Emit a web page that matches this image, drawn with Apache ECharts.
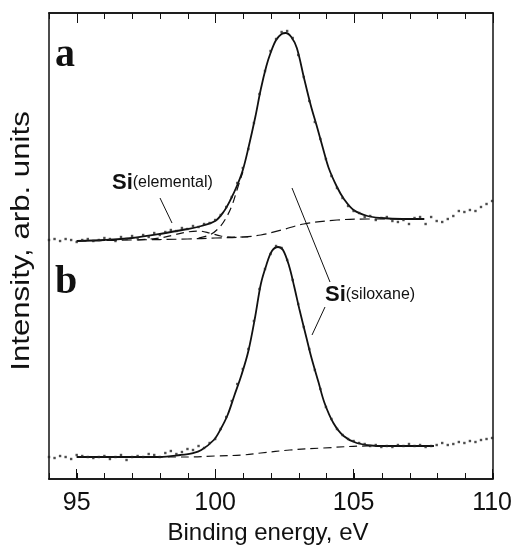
<!DOCTYPE html>
<html>
<head>
<meta charset="utf-8">
<script src="https://cdn.jsdelivr.net/npm/echarts@6/dist/echarts.min.js"></script>
<style>
  html, body { margin: 0; padding: 0; background: #fff; }
  #chart { width: 515px; height: 548px; }
</style>
</head>
<body>
<div id="chart"></div>
<script>
  // binding energy grid of the measured points (eV)
  const dotEnergy = [
    94.0, 94.2, 94.4, 94.6, 94.8, 95.0, 95.2, 95.4, 95.6, 95.8,
    96.0, 96.2, 96.4, 96.6, 96.8, 97.0, 97.2, 97.4, 97.6, 97.8,
    98.0, 98.2, 98.4, 98.6, 98.8, 99.0, 99.2, 99.4, 99.6, 99.8,
    100.0, 100.2, 100.4, 100.6, 100.8, 101.0, 101.2, 101.4, 101.6, 101.8,
    102.0, 102.2, 102.4, 102.6, 102.8, 103.0, 103.2, 103.4, 103.6, 103.8,
    104.0, 104.2, 104.4, 104.6, 104.8, 105.0, 105.2, 105.4, 105.6, 105.8,
    106.0, 106.2, 106.4, 106.6, 106.8, 107.0, 107.2, 107.4, 107.6, 107.8,
    108.0, 108.2, 108.4, 108.6, 108.8, 109.0, 109.2, 109.4, 109.6, 109.8,
    110.0
  ]

  // spectrum a: measured points
  const dotsA = [
    239, 240, 238, 240, 239, 237, 239, 240, 238, 239,
    241, 240, 238, 242, 240, 243, 241, 244, 242, 246,
    244, 247, 249, 248, 251, 250, 253, 252, 255, 256,
    259, 264, 272, 282, 296, 311, 330, 356, 385, 408,
    428, 440, 447, 448, 441, 424, 402, 378, 357, 340,
    320, 303, 291, 281, 273, 268, 266, 262, 263, 259,
    261, 262, 258, 257, 259, 255, 261, 262, 255, 262,
    258, 257, 260, 263, 268, 267, 269, 268, 272, 275,
    278
  ]

  // spectrum b: measured points
  const dotsB = [
    22, 21, 23, 22, 20, 24, 23, 22, 21, 22,
    23, 20, 22, 24, 19, 22, 23, 22, 25, 24,
    22, 26, 28, 25, 27, 30, 29, 33, 31, 36,
    40, 50, 62, 78, 95, 110, 130, 158, 190, 210,
    225, 233, 231, 219, 199, 175, 152, 130, 109, 90,
    72, 60, 50, 44, 40, 38, 36, 35, 33, 34,
    32, 33, 32, 34, 33, 35, 33, 34, 32, 33,
    34, 36, 34, 35, 37, 36, 38, 37, 39, 40,
    41
  ]

  // fitted curves [eV, intensity]
  const fitA = [
    [95.0, 238], [96.0, 239], [97.0, 241], [98.0, 245], [99.0, 250], [99.5, 253],
    [100.0, 258], [100.3, 267], [100.55, 279], [100.8, 294], [101.0, 309], [101.2, 331],
    [101.45, 362], [101.65, 390], [101.85, 413], [102.0, 426], [102.2, 439], [102.4, 445],
    [102.55, 446], [102.75, 442], [102.95, 431], [103.2, 402], [103.45, 374], [103.7, 350],
    [103.9, 330], [104.1, 311], [104.4, 292], [104.65, 280], [105.0, 269], [105.5, 263],
    [106.0, 261], [106.75, 260], [107.55, 260]
  ]
  const bgA = [
    [95.0, 238], [97.0, 239], [99.0, 240], [100.0, 241], [101.0, 242], [101.65, 244],
    [102.4, 249], [103.2, 255], [104.4, 259], [105.5, 260], [107.55, 260]
  ]
  const elementalA = [
    [97.2, 239], [98.0, 241], [98.5, 244], [99.0, 247], [99.4, 248], [99.8, 246],
    [100.2, 243], [100.6, 242], [101.2, 242]
  ]
  const siloxaneA = [
    [99.4, 241], [99.8, 244], [100.1, 250], [100.35, 259], [100.6, 273], [100.8, 290],
    [101.0, 307]
  ]
  const fitB = [
    [95.0, 22], [96.0, 22], [97.0, 22], [98.0, 22], [98.75, 24], [99.2, 26], [99.5, 29],
    [99.95, 39], [100.2, 50], [100.45, 64], [100.7, 84], [100.95, 104], [101.2, 128],
    [101.45, 163], [101.65, 195], [101.85, 214], [102.05, 228], [102.27, 232], [102.45, 229],
    [102.67, 213], [102.85, 193], [103.04, 170], [103.29, 142], [103.47, 122], [103.73, 97],
    [103.95, 76], [104.27, 56], [104.64, 43], [105.11, 36], [105.84, 33], [106.5, 33],
    [107.9, 33]
  ]
  const bgB = [
    [95.0, 22], [99.0, 22], [100.0, 23], [101.0, 24], [101.65, 26], [102.7, 29],
    [103.9, 31], [105.5, 33], [107.9, 33]
  ]

  const majorTicks = [95, 100, 105, 110]

  const chart = echarts.init(document.getElementById('chart'))
  const ink = '#111'
  const sans = 'Liberation Sans, Arial, sans-serif'

  const pts = (ys) => dotEnergy.map((e, i) => [e, ys[i]])

  // four grids over the same plot box: 0 data + bottom major, 1 bottom minor,
  // 2 top major, 3 top minor (each grid carries one x axis)
  const box = { left: 49, right: 22, top: 13, bottom: 69 }

  const xAxisFor = (gridIndex, position, tickLen, extra) => ({
    gridIndex,
    type: 'value',
    min: 94,
    max: 110,
    position,
    splitLine: { show: false },
    axisLine: { show: true, onZero: false, lineStyle: { color: ink, width: 1.5 } },
    axisLabel: { show: false },
    axisTick: { show: true, inside: true, length: tickLen, lineStyle: { color: ink } },
    ...extra
  })
  const yAxisFor = (gridIndex, lineShown, position) => ({
    gridIndex,
    type: 'value',
    min: 0,
    max: 466,
    position,
    axisLine: { show: lineShown, onZero: false, lineStyle: { color: ink, width: 1.5 } },
    axisTick: { show: false },
    axisLabel: { show: false },
    splitLine: { show: false }
  })

  const solid = (data) => ({
    type: 'line',
    data,
    smooth: 0.35,
    showSymbol: false,
    lineStyle: { color: ink, width: 1.8 },
    z: 3
  })
  const dashed = (data, dash) => ({
    type: 'line',
    data,
    smooth: 0.35,
    showSymbol: false,
    lineStyle: { color: ink, width: 1.2, type: dash },
    z: 2
  })
  const dots = (data) => ({
    type: 'scatter',
    data,
    symbol: 'rect',
    symbolSize: 2.4,
    itemStyle: { color: '#222' },
    z: 4
  })

  const option = {
    animation: false,
    grid: [box, box, box, box],
    xAxis: [
      xAxisFor(0, 'bottom', 10, {
        axisTick: { show: true, inside: true, length: 10, customValues: majorTicks, lineStyle: { color: ink } },
        axisLabel: { show: true, customValues: majorTicks, margin: 12, fontSize: 25, fontFamily: sans, color: ink }
      }),
      xAxisFor(1, 'bottom', 6, { interval: 1 }),
      xAxisFor(2, 'top', 10, {
        axisTick: { show: true, inside: true, length: 10, customValues: majorTicks, lineStyle: { color: ink } }
      }),
      xAxisFor(3, 'top', 6, { interval: 1 })
    ],
    yAxis: [
      yAxisFor(0, true, 'left'),
      yAxisFor(1, true, 'right'),
      yAxisFor(2, false, 'left'),
      yAxisFor(3, false, 'left')
    ],
    series: [
      dashed(bgA, [10, 5]),
      dashed(elementalA, [8, 5]),
      dashed(siloxaneA, [8, 5]),
      solid(fitA),
      dots(pts(dotsA)),
      dashed(bgB, [8, 5]),
      solid(fitB),
      dots(pts(dotsB))
    ],
    graphic: [
      // panel letters
      { type: 'text', x: 55, y: 56, style: { text: 'a', font: 'bold 40px "Liberation Serif", serif', fill: ink, verticalAlign: 'middle' } },
      { type: 'text', x: 55, y: 283, style: { text: 'b', font: 'bold 40px "Liberation Serif", serif', fill: ink, verticalAlign: 'middle' } },
      // component labels
      {
        type: 'text', x: 112, y: 183,
        style: {
          text: '{b|Si}{s|(elemental)}',
          verticalAlign: 'middle',
          rich: {
            b: { fontSize: 22, fontWeight: 'bold', fontFamily: sans, fill: ink },
            s: { fontSize: 16, fontFamily: sans, fill: ink }
          }
        }
      },
      {
        type: 'text', x: 325, y: 295,
        style: {
          text: '{b|Si}{s|(siloxane)}',
          verticalAlign: 'middle',
          rich: {
            b: { fontSize: 22, fontWeight: 'bold', fontFamily: sans, fill: ink },
            s: { fontSize: 16, fontFamily: sans, fill: ink }
          }
        }
      },
      // leader lines
      { type: 'line', shape: { x1: 160, y1: 198, x2: 172, y2: 223 }, style: { stroke: ink, lineWidth: 1 } },
      { type: 'line', shape: { x1: 292, y1: 188, x2: 330, y2: 282 }, style: { stroke: ink, lineWidth: 1 } },
      { type: 'line', shape: { x1: 325, y1: 307, x2: 312, y2: 335 }, style: { stroke: ink, lineWidth: 1 } },
      // axis titles
      {
        type: 'text', x: 22, y: 241, rotation: Math.PI / 2, scaleX: 1.2,
        style: { text: 'Intensity, arb. units', font: '26px ' + sans, fill: ink, align: 'center', verticalAlign: 'middle' }
      },
      {
        type: 'text', x: 268, y: 533,
        style: { text: 'Binding energy, eV', font: '24px ' + sans, fill: ink, align: 'center', verticalAlign: 'middle' }
      }
    ]
  }

  chart.setOption(option)
</script>
</body>
</html>
